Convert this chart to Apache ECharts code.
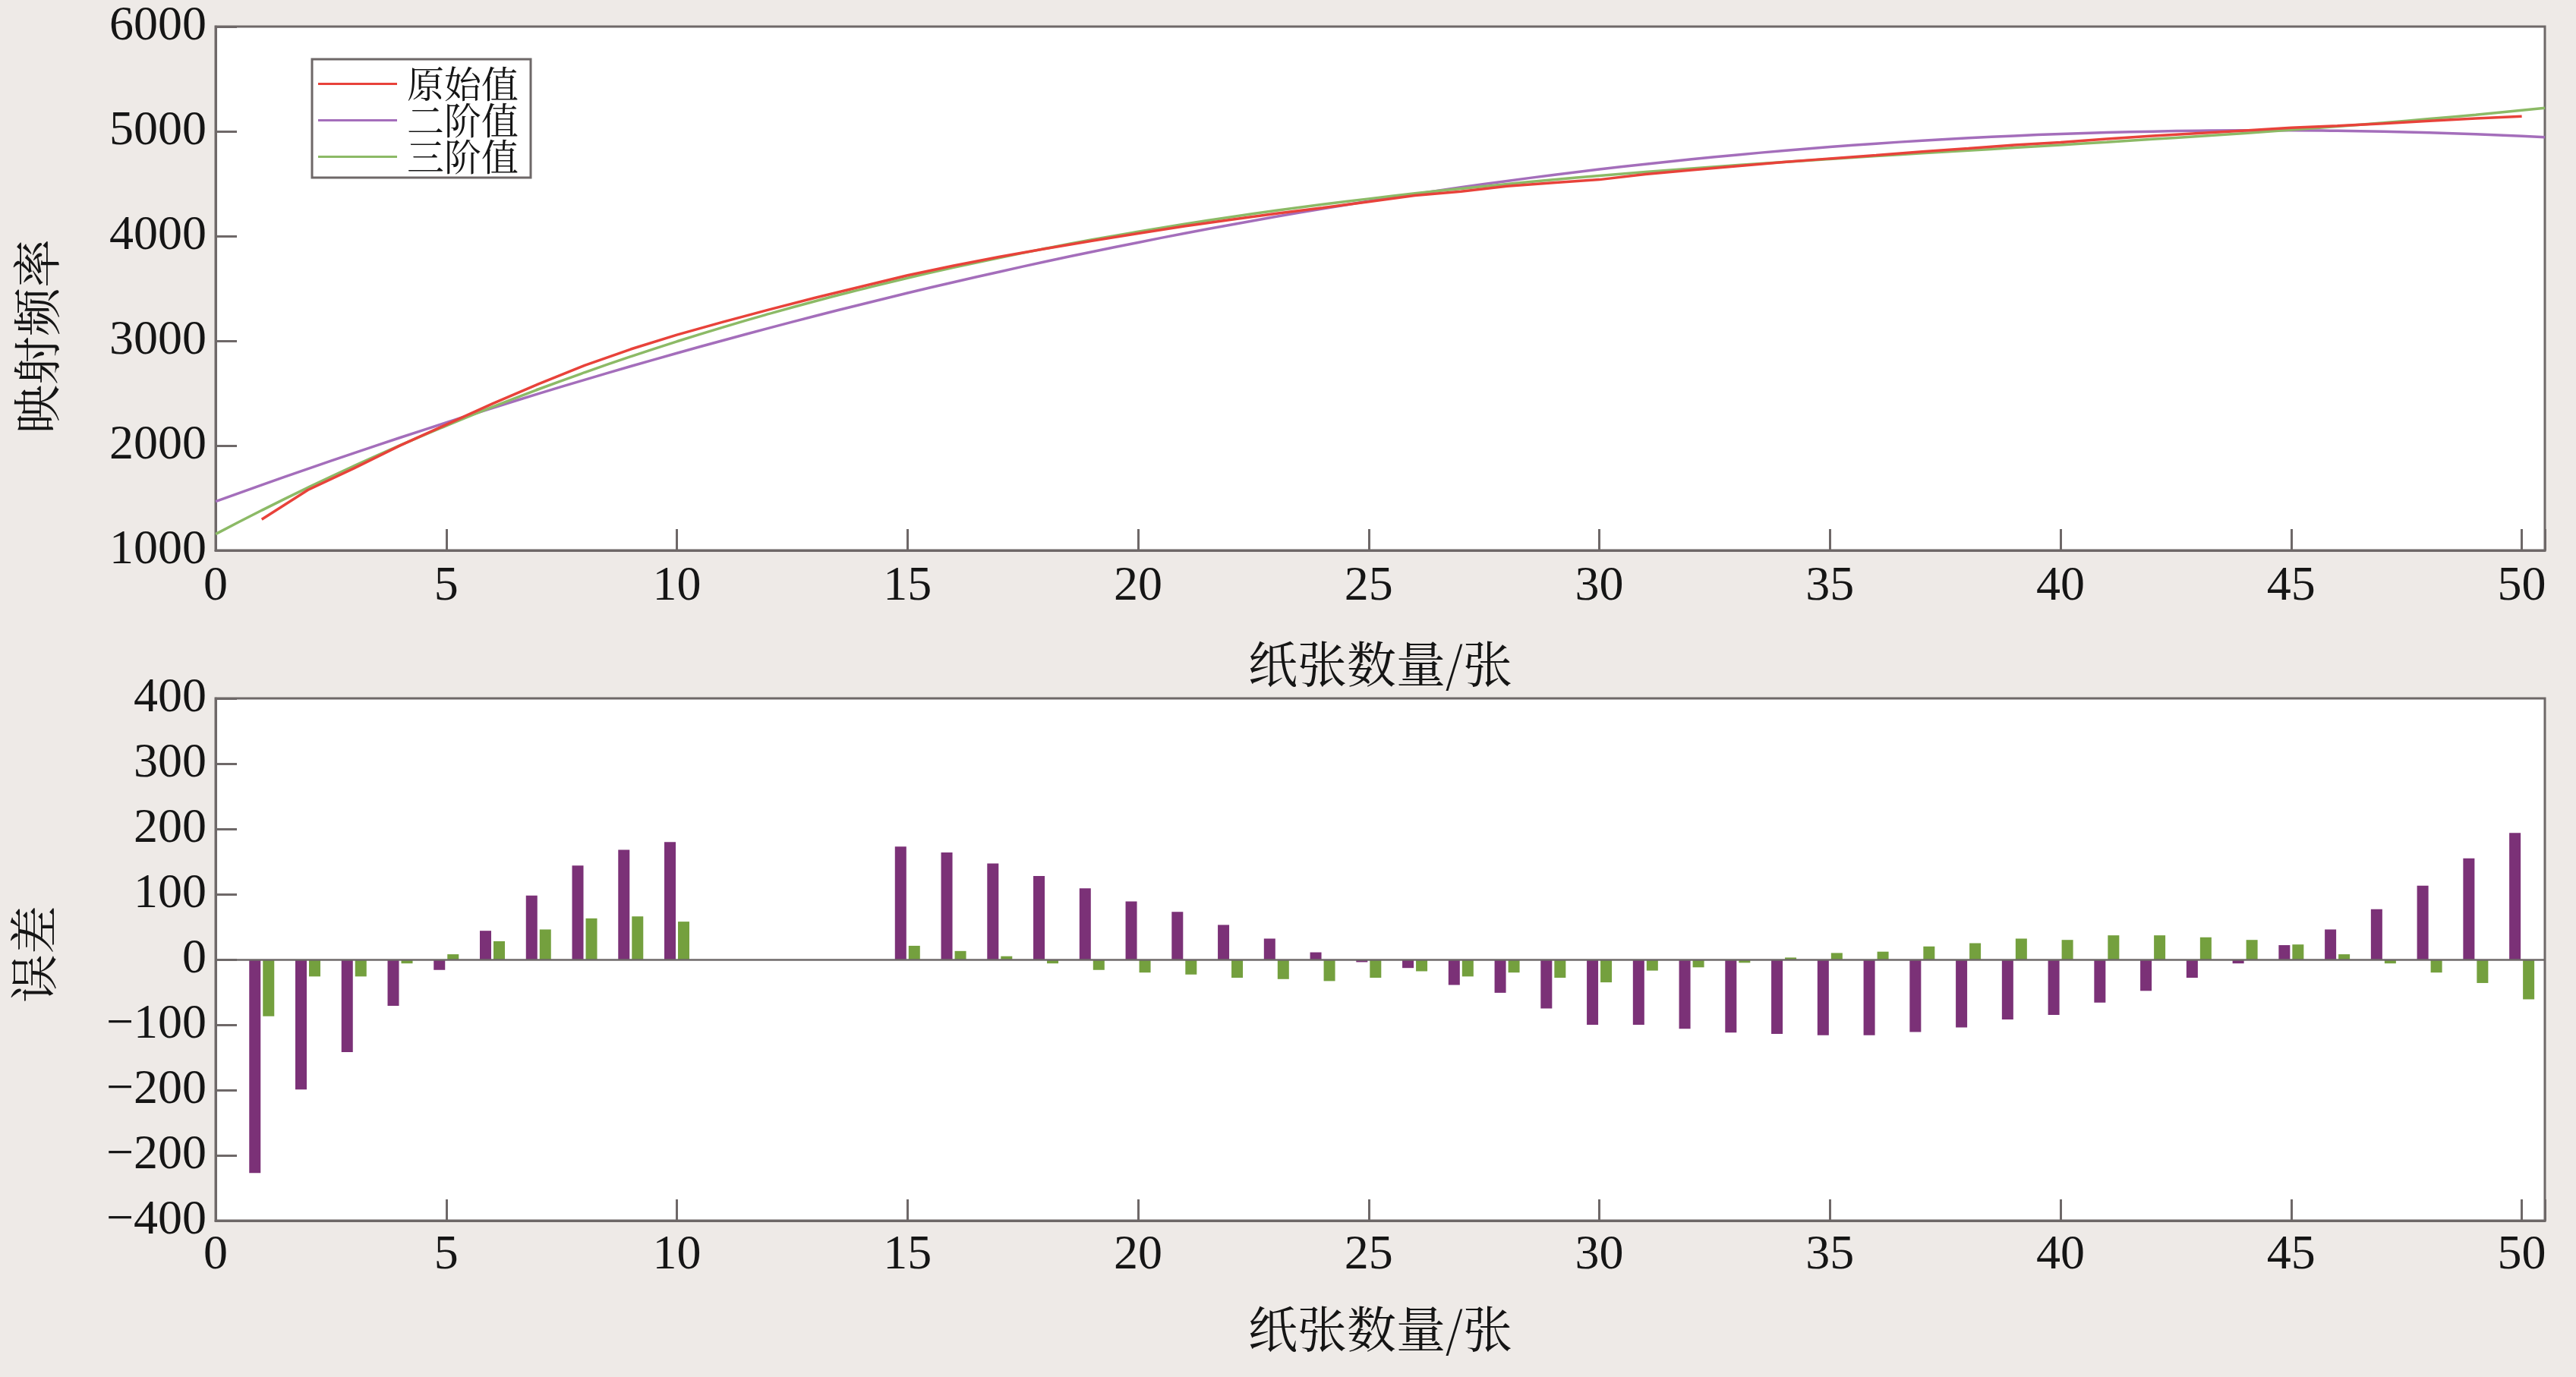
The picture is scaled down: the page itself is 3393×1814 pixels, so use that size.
<!DOCTYPE html>
<html><head><meta charset="utf-8">
<script src="https://cdn.jsdelivr.net/npm/echarts@6/dist/echarts.min.js"></script>
<style>html,body{margin:0;padding:0;background:#EEEAE7;}#c{width:3393px;height:1814px;}</style>
</head><body><div id="c"></div>
<script>
// ---- data ----
const sheetX = [1,2,3,4,5,6,7,8,9,10,11,12,13,14,15,16,17,18,19,20,21,22,23,24,25,26,27,28,29,30,31,32,33,34,35,36,37,38,39,40,41,42,43,44,45,46,47,48,49,50];
const rawValues = [1296,1576,1784,2001,2200,2400,2588,2766,2920,3057,3180,3298,3411,3518,3625,3718,3803,3880,3954,4025,4094,4156,4216,4270,4328,4388,4426,4476,4509,4539,4591,4630,4668,4706,4740,4772,4806,4837,4870,4895,4928,4956,4982,5008,5034,5053,5075,5100,5124,5144];
const fitX = [0,1,2,3,4,5,6,7,8,9,10,11,12,13,14,15,16,17,18,19,20,21,22,23,24,25,26,27,28,29,30,31,32,33,34,35,36,37,38,39,40,41,42,43,44,45,46,47,48,49,50,50.5];
const quadFit = [1466,1624,1778,1929,2076,2219,2359,2495,2628,2757,2882,3004,3122,3237,3348,3456,3560,3660,3757,3850,3939,4025,4107,4186,4261,4333,4401,4465,4526,4583,4637,4687,4733,4776,4815,4851,4883,4911,4936,4957,4975,4989,4999,5006,5009,5009,5005,4998,4987,4972,4954,4943];
const cubicFit = [1155,1382,1599,1806,2003,2190,2369,2538,2698,2850,2994,3130,3258,3379,3492,3600,3700,3794,3882,3965,4042,4114,4181,4244,4302,4356,4407,4453,4497,4538,4576,4612,4645,4677,4707,4736,4764,4791,4817,4844,4870,4897,4925,4953,4982,5014,5047,5082,5119,5158,5201,5223];
const quadErr = [-327,-199,-142,-71,-16,44,98,144,168,180,null,null,null,null,173,164,147,128,109,89,73,53,32,11,-4,-13,-39,-51,-75,-100,-100,-106,-112,-114,-116,-116,-111,-104,-92,-85,-66,-48,-28,-6,22,46,77,113,155,194];
const cubicErr = [-87,-26,-26,-6,8,28,46,63,66,58,null,null,null,null,21,13,5,-6,-16,-20,-23,-28,-30,-33,-28,-18,-26,-20,-28,-35,-17,-12,-5,3,10,12,20,25,32,30,37,37,34,30,23,8,-6,-20,-36,-61];
const seriesNames = ['原始值','二阶值','三阶值'];
const errTickLabels = ['\u2212400','\u2212200','\u2212200','\u2212100','0','100','200','300','400'];
const xAxisTitle = '纸张数量/张';
const yTitleTop = '映射频率';
const yTitleBottom = '误差';

// ---- styling ----
const AX = '#6E6868';
const TXT = '#151515';
const SERIF = "'Liberation Serif','Times New Roman',serif";
const CJK = "'Noto Serif CJK SC','Noto Sans CJK SC',serif";

function xAxisCfg(gi, margin){
  return {
    type:'value', gridIndex:gi, min:0, max:50.5, interval:5,
    axisLine:{show:true, onZero:false, lineStyle:{color:AX, width:3}},
    axisTick:{show:true, inside:true, length:28, lineStyle:{color:AX, width:3}},
    axisLabel:{fontSize:64, fontFamily:SERIF, color:TXT, margin:margin,
      formatter:v => (Math.abs(v % 5) < 1e-9 ? String(v) : '')},
    splitLine:{show:false}
  };
}
function yAxisCfg(gi, min, max, interval, fmt){
  return {
    type:'value', gridIndex:gi, min:min, max:max, interval:interval,
    axisLine:{show:true, onZero:false, lineStyle:{color:AX, width:3}},
    axisTick:{show:true, inside:true, length:28, lineStyle:{color:AX, width:3}},
    axisLabel:{fontSize:64, fontFamily:SERIF, color:TXT, margin:12, formatter:fmt},
    splitLine:{show:false}
  };
}
const pair = (xs, ys) => xs.map((x,i)=>[x, ys[i] == null ? '-' : ys[i]]);

const chart = echarts.init(document.getElementById('c'), null, {renderer:'canvas'});
chart.setOption({
  animation:false,
  backgroundColor:'#EEEAE7',
  grid:[
    {left:284, top:35, width:3068, height:690, show:true, backgroundColor:'#ffffff', borderColor:AX, borderWidth:3},
    {left:284, top:920, width:3068, height:688, show:true, backgroundColor:'#ffffff', borderColor:AX, borderWidth:3}
  ],
  xAxis:[xAxisCfg(0, 16), xAxisCfg(1, 14)],
  yAxis:[
    yAxisCfg(0, 1000, 6000, 1000, v => String(v)),
    yAxisCfg(1, -400, 400, 100, v => errTickLabels[Math.round((v + 400) / 100)] || '')
  ],
  legend:{
    orient:'vertical', left:411, top:78, icon:'rect',
    padding:[8,16,3,8], itemGap:-1, itemWidth:104, itemHeight:3,
    backgroundColor:'#ffffff', borderColor:AX, borderWidth:3, borderRadius:0,
    textStyle:{fontSize:49, fontFamily:CJK, color:TXT, padding:[0,0,0,8]},
    data:seriesNames
  },
  series:[
    {name:seriesNames[0], type:'line', xAxisIndex:0, yAxisIndex:0, symbol:'none',
      lineStyle:{color:'#E8423A', width:3.5}, itemStyle:{color:'#E8423A'},
      data:pair(sheetX, rawValues), z:4},
    {name:seriesNames[1], type:'line', xAxisIndex:0, yAxisIndex:0, symbol:'none', smooth:true,
      lineStyle:{color:'#A46EBB', width:3.5}, itemStyle:{color:'#A46EBB'},
      data:pair(fitX, quadFit), z:3},
    {name:seriesNames[2], type:'line', xAxisIndex:0, yAxisIndex:0, symbol:'none', smooth:true,
      lineStyle:{color:'#8CBA66', width:3.5}, itemStyle:{color:'#8CBA66'},
      data:pair(fitX, cubicFit), z:3},
    {name:'二阶误差', type:'bar', xAxisIndex:1, yAxisIndex:1, barWidth:15, barGap:'20%',
      itemStyle:{color:'#7B3177'}, data:pair(sheetX, quadErr),
      markLine:{silent:true, symbol:'none', label:{show:false}, animation:false,
        lineStyle:{color:AX, width:2.5, type:'solid'}, data:[{yAxis:0}]}},
    {name:'三阶误差', type:'bar', xAxisIndex:1, yAxisIndex:1, barWidth:15, barGap:'20%',
      itemStyle:{color:'#74A03E'}, data:pair(sheetX, cubicErr)}
  ],
  graphic:[
    {type:'text', x:1818, y:874, style:{text:xAxisTitle, fontSize:65, fontFamily:CJK, fill:TXT, align:'center', verticalAlign:'middle'}},
    {type:'text', x:1818, y:1750, style:{text:xAxisTitle, fontSize:65, fontFamily:CJK, fill:TXT, align:'center', verticalAlign:'middle'}},
    {type:'text', x:48, y:443, rotation:Math.PI/2, style:{text:yTitleTop, fontSize:64, fontFamily:CJK, fill:TXT, align:'center', verticalAlign:'middle'}},
    {type:'text', x:44, y:1257, rotation:Math.PI/2, style:{text:yTitleBottom, fontSize:64, fontFamily:CJK, fill:TXT, align:'center', verticalAlign:'middle'}}
  ]
});
</script></body></html>
